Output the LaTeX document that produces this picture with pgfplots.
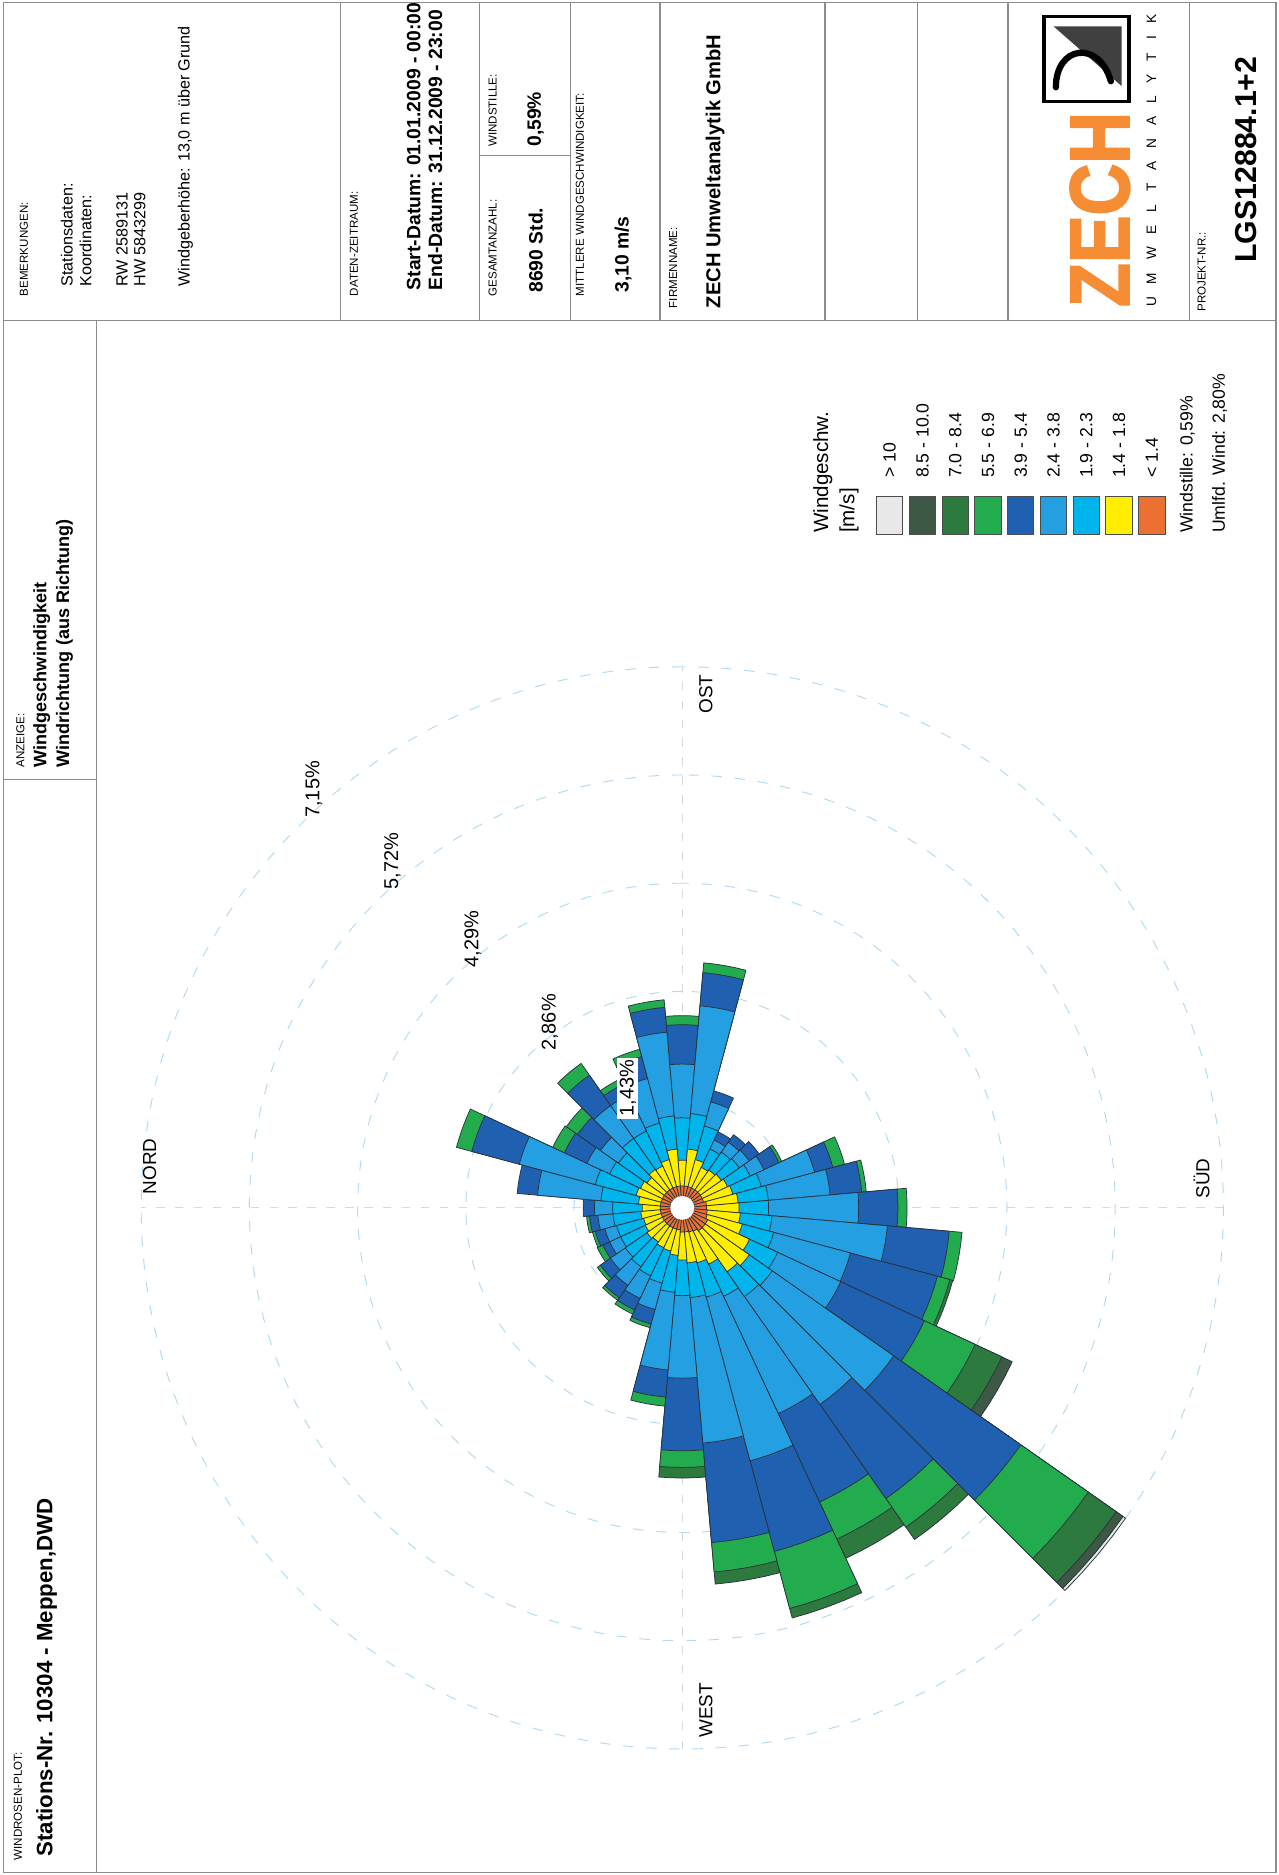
\documentclass[border=0pt]{standalone}
\usepackage{pgfplots}
\pgfplotsset{compat=1.18}
\usepackage{pgfplotstable}
\usepackage{graphicx}
\usepackage{fontspec}
\setmainfont{Liberation Sans}
\newfontfamily\zechfont[BoldFeatures={FakeBold=2.5}]{Liberation Sans}

\definecolor{cGr}{RGB}{232,232,232}
\definecolor{cDDG}{RGB}{62,88,70}
\definecolor{cDG}{RGB}{44,122,62}
\definecolor{cG}{RGB}{34,172,78}
\definecolor{cD}{RGB}{32,96,176}
\definecolor{cL}{RGB}{36,160,226}
\definecolor{cC}{RGB}{0,180,236}
\definecolor{cY}{RGB}{255,238,0}
\definecolor{cO}{RGB}{236,112,50}
\definecolor{secedge}{RGB}{40,50,60}
\definecolor{ringcol}{RGB}{175,218,242}
\definecolor{frame}{RGB}{140,140,140}
\definecolor{zechorange}{RGB}{246,140,52}

% cumulative radius (percent) of each speed class per direction (deg from north)
\pgfplotstableread{
dir o y c l d g dg ddg gr
0   0.29 0.53 0.92 1.16 1.31 1.31 1.31 1.31 1.31
10  0.29 0.58 1.08 1.92 2.19 2.19 2.19 2.19 2.19
20  0.29 0.63 1.19 2.23 2.88 3.09 3.09 3.09 3.09
30  0.29 0.61 1.06 1.39 1.72 1.89 1.89 1.89 1.89
40  0.29 0.57 1.03 1.32 1.69 1.87 1.87 1.87 1.87
50  0.29 0.62 1.12 1.65 2.14 2.33 2.33 2.33 2.33
60  0.29 0.61 1.12 1.65 1.81 1.89 1.89 1.89 1.89
70  0.29 0.66 1.16 1.77 2.07 2.17 2.17 2.17 2.17
80  0.29 0.78 1.22 2.33 2.66 2.76 2.76 2.76 2.76
90  0.29 0.63 1.19 1.90 2.42 2.54 2.54 2.54 2.54
100 0.29 0.78 1.25 2.68 3.12 3.25 3.25 3.25 3.25
110 0.29 0.66 1.12 1.45 1.60 1.60 1.60 1.60 1.60
120 0.29 0.59 0.86 0.99 1.11 1.11 1.11 1.11 1.11
130 0.29 0.61 0.90 1.06 1.18 1.18 1.18 1.18 1.18
140 0.29 0.63 0.92 1.08 1.24 1.24 1.24 1.24 1.24
150 0.29 0.66 0.99 1.19 1.41 1.45 1.45 1.45 1.45
160 0.29 0.69 1.08 1.81 2.06 2.22 2.22 2.22 2.22
170 0.32 0.74 1.14 1.96 2.38 2.44 2.44 2.44 2.44
180 0.32 0.75 1.14 2.33 2.85 2.97 2.97 2.97 2.97
190 0.33 0.77 1.19 2.72 3.54 3.71 3.71 3.71 3.71
200 0.34 0.82 1.25 2.30 3.49 3.66 3.70 3.70 3.70
210 0.37 0.98 1.39 2.31 3.53 4.27 4.66 4.81 4.81
220 0.37 1.08 1.45 3.41 5.46 6.55 7.00 7.11 7.15
230 0.37 1.03 1.43 3.17 4.69 5.15 5.35 5.35 5.35
240 0.34 0.82 1.29 3.00 4.29 4.83 5.11 5.11 5.11
250 0.33 0.75 1.22 3.46 4.70 5.48 5.61 5.61 5.61
260 0.32 0.73 1.19 3.12 4.44 4.83 4.99 4.99 4.99
270 0.32 0.69 1.16 2.25 3.21 3.43 3.57 3.57 3.57
280 0.29 0.63 1.12 2.15 2.51 2.63 2.63 2.63 2.63
290 0.29 0.59 1.03 1.39 1.59 1.64 1.64 1.64 1.64
300 0.29 0.58 0.99 1.32 1.49 1.55 1.55 1.55 1.55
310 0.29 0.55 0.95 1.25 1.45 1.49 1.49 1.49 1.49
320 0.29 0.57 0.92 1.16 1.32 1.37 1.37 1.37 1.37
330 0.29 0.54 0.90 1.06 1.16 1.24 1.24 1.24 1.24
340 0.29 0.53 0.90 1.06 1.19 1.23 1.23 1.23 1.23
350 0.29 0.55 0.92 1.12 1.23 1.27 1.27 1.27 1.27
}\rose
\pgfplotstablecreatecol[create col/set={0}]{z}\rose

\newcommand\drawsector[3]{%
  \pgfmathsetmacro\xa{#2*sin(#1-5)}\pgfmathsetmacro\ya{#2*cos(#1-5)}%
  \pgfmathsetmacro\xb{#2*sin(#1-2.5)}\pgfmathsetmacro\yb{#2*cos(#1-2.5)}%
  \pgfmathsetmacro\xc{#2*sin(#1)}\pgfmathsetmacro\yc{#2*cos(#1)}%
  \pgfmathsetmacro\xd{#2*sin(#1+2.5)}\pgfmathsetmacro\yd{#2*cos(#1+2.5)}%
  \pgfmathsetmacro\xe{#2*sin(#1+5)}\pgfmathsetmacro\ye{#2*cos(#1+5)}%
  \edef\tmp{\noexpand\addplot[fill=#3,draw=secedge,line width=0.35pt,line join=round,forget plot] coordinates {(0,0) (\xa,\ya) (\xb,\yb) (\xc,\yc) (\xd,\yd) (\xe,\ye) (0,0)};}%
  \tmp
}
\newcommand\drawclass[3]{%
  \pgfplotsforeachungrouped \i in {0,...,35}{%
    \pgfplotstablegetelem{\i}{dir}\of\rose \let\dv\pgfplotsretval
    \pgfplotstablegetelem{\i}{#1}\of\rose \let\rv\pgfplotsretval
    \pgfplotstablegetelem{\i}{#2}\of\rose \let\pv\pgfplotsretval
    \pgfmathtruncatemacro\doit{(\rv>\pv+0.005) ? 1 : 0}%
    \ifnum\doit=1 \drawsector{\dv}{\rv}{#3}\fi
  }%
}

\tikzset{
  lbl/.style={anchor=west,inner sep=0pt,font=\fontsize{5.5}{6.5}\selectfont},
  txt/.style={anchor=west,inner sep=0pt,font=\fontsize{7.7}{9}\selectfont},
  bld/.style={anchor=west,inner sep=0pt,font=\fontsize{9.2}{10}\selectfont\bfseries},
  leg/.style={anchor=west,inner sep=0pt,font=\fontsize{8.4}{10}\selectfont},
}

\begin{document}
\rotatebox{90}{%
\begin{tikzpicture}[x=0.02cm,y=0.02cm]
\useasboundingbox (0,0) rectangle (1568,1069);
% frame
\begin{scope}[draw=frame,line width=0.6pt]
\draw (2,2) rectangle (1566,1066);
\draw (2,988) -- (1300,988);
\draw (916,988) -- (916,1066);
\draw (1300,2) -- (1300,1066);
\foreach \yy in {784,668,592,517,379,302,226,74}{\draw (1300,\yy) -- (1566,\yy);}
\draw (1438,592) -- (1438,668);
\end{scope}

% title strip
\node[lbl] at (12,1054) {WINDROSEN-PLOT:};
\node[anchor=west,inner sep=0pt,font=\fontsize{10.6}{12}\selectfont\bfseries] at (15,1030) {Stations-Nr. 10304 - Meppen,DWD};
\node[lbl] at (926,1052) {ANZEIGE:};
\node[anchor=west,inner sep=0pt,font=\fontsize{8.6}{10}\selectfont\bfseries] at (926,1034) {Windgeschwindigkeit};
\node[anchor=west,inner sep=0pt,font=\fontsize{8.6}{10}\selectfont\bfseries] at (926,1015) {Windrichtung (aus Richtung)};

% right panel
\node[lbl] at (1320,1049) {BEMERKUNGEN:};
\node[txt] at (1328,1013) {Stationsdaten:};
\node[txt] at (1328,997.5) {Koordinaten:};
\node[txt] at (1328,967) {RW 2589131};
\node[txt] at (1328,952) {HW 5843299};
\node[txt] at (1328,914) {Windgeberhöhe: 13,0 m über Grund};
\node[lbl] at (1320,773) {DATEN-ZEITRAUM:};
\node[bld] at (1325,723) {Start-Datum: 01.01.2009 - 00:00};
\node[bld] at (1325,705) {End-Datum: 31.12.2009 - 23:00};
\node[lbl] at (1320,657) {GESAMTANZAHL:};
\node[bld] at (1323,621) {8690 Std.};
\node[lbl] at (1445,657) {WINDSTILLE:};
\node[bld] at (1445,621) {0,59\%};
\node[lbl] at (1320,584) {MITTLERE WINDGESCHWINDIGKEIT:};
\node[bld] at (1323,548) {3,10 m/s};
\node[lbl] at (1310,506) {FIRMENNAME:};
\node[anchor=west,inner sep=0pt,font=\fontsize{9.6}{11}\selectfont\bfseries] at (1310,471) {ZECH Umweltanalytik GmbH};
\node[lbl] at (1307,64) {PROJEKT-NR.:};
\node[anchor=west,inner sep=0pt,font=\fontsize{14.4}{16}\selectfont\bfseries] at (1348,27) {LGS12884.1+2};

% logo
\node[anchor=south west,inner sep=0pt,text=zechorange] at (1311,124) {\resizebox{3.26cm}{0.98cm}{\zechfont\bfseries ZECH}};
\node[anchor=west,inner sep=0pt,font=\fontsize{6.5}{7}\selectfont] at (1311,106) {\makebox[4.9cm][s]{U\hfill M\hfill W\hfill E\hfill L\hfill T\hfill A\hfill N\hfill A\hfill L\hfill Y\hfill T\hfill I\hfill K}};
\draw[line width=1.6pt] (1483,125) rectangle (1554,196);
\fill[black!75] (1546,188) -- (1546,131) -- (1496,131) -- cycle;
\draw[line width=3pt,line cap=round] (1495,186) .. controls (1530,186) and (1535,150) .. (1500,140);

% legend
\node[anchor=west,inner sep=0pt,font=\fontsize{9.8}{11}\selectfont] at (1122,381) {Windgeschw.};
\node[anchor=west,inner sep=0pt,font=\fontsize{9.8}{11}\selectfont] at (1122,359) {[m/s]};
\foreach \k/\c/\t in {0/cGr/{> 10},1/cDDG/{8.5 - 10.0},2/cDG/{7.0 - 8.4},3/cG/{5.5 - 6.9},4/cD/{3.9 - 5.4},5/cL/{2.4 - 3.8},6/cC/{1.9 - 2.3},7/cY/{1.4 - 1.8},8/cO/{< 1.4}}{
  \pgfmathsetmacro\yc{325-27.4*\k}
  \filldraw[fill=\c,draw=black!70,line width=0.4pt] (1121,\yc-11) rectangle (1153,\yc+11);
  \node[leg] at (1168,\yc) {\t};
}
\node[leg] at (1122,76) {Windstille: 0,59\%};
\node[leg] at (1122,49) {Umlfd. Wind: 2,80\%};

% wind rose
\begin{axis}[at={(11.16cm,9.97cm)},anchor=center,x=1.266cm,y=1.266cm,
  xmin=-7.6,xmax=7.6,ymin=-7.6,ymax=7.6,hide axis,clip=false]
\draw[gray!30,dash pattern=on 4pt off 5pt,line width=0.45pt] (axis cs:-7.15,0) -- (axis cs:7.15,0);
\draw[gray!30,dash pattern=on 4pt off 5pt,line width=0.45pt] (axis cs:0,-7.15) -- (axis cs:0,7.15);
\pgfplotsinvokeforeach{1.810,3.621,5.431,7.242,9.052}{
  \draw[ringcol,dash pattern=on 5pt off 6pt,line width=0.45pt] (axis cs:0,0) circle[radius=#1cm];
}
\drawclass{gr}{ddg}{cGr}
\drawclass{ddg}{dg}{cDDG}
\drawclass{dg}{g}{cDG}
\drawclass{g}{d}{cG}
\drawclass{d}{l}{cD}
\drawclass{l}{c}{cL}
\drawclass{c}{y}{cC}
\drawclass{y}{o}{cY}
\drawclass{o}{z}{cO}
\fill[white] (axis cs:0,0) circle[radius=0.2cm];
\node[font=\fontsize{9}{10}\selectfont] at (axis cs:0.55,7.04) {NORD};
\node[font=\fontsize{9}{10}\selectfont] at (axis cs:6.79,-0.31) {OST};
\node[font=\fontsize{9}{10}\selectfont] at (axis cs:0.39,-6.86) {SÜD};
\node[font=\fontsize{9}{10}\selectfont] at (axis cs:-6.64,-0.31) {WEST};
\node[font=\fontsize{9.5}{10}\selectfont,fill=white,inner sep=1pt] at (axis cs:1.58,0.72) {1,43\%};
\node[font=\fontsize{9.5}{10}\selectfont] at (axis cs:2.45,1.75) {2,86\%};
\node[font=\fontsize{9.5}{10}\selectfont] at (axis cs:3.55,2.77) {4,29\%};
\node[font=\fontsize{9.5}{10}\selectfont] at (axis cs:4.58,3.83) {5,72\%};
\node[font=\fontsize{9.5}{10}\selectfont] at (axis cs:5.53,4.87) {7,15\%};
\end{axis}
\end{tikzpicture}}
\end{document}
